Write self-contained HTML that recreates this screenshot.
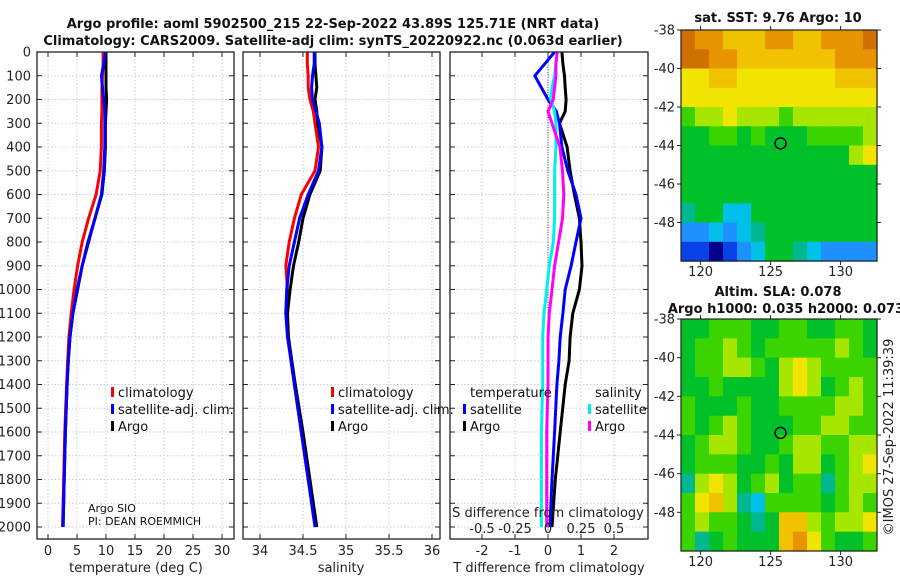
<!DOCTYPE html>
<html><head><meta charset="utf-8"><style>
body{margin:0;background:#fff;}
svg{display:block;font-family:"DejaVu Sans","Liberation Sans",sans-serif;}
</style></head><body>
<svg id="chart" width="900" height="580" viewBox="0 0 900 580">
<g id="titles" font-weight="bold" font-size="13" text-anchor="middle" fill="#111">
<text x="333" y="28">Argo profile: aoml 5902500_215 22-Sep-2022 43.89S 125.71E (NRT data)</text>
<text x="333" y="45">Climatology: CARS2009. Satellite-adj clim: synTS_20220922.nc (0.063d earlier)</text>
<text x="778" y="22">sat. SST: 9.76 Argo: 10</text>
<text x="778" y="296">Altim. SLA: 0.078</text>
<text x="786" y="313">Argo h1000: 0.035 h2000: 0.073</text>
</g>
<g id="g"></g>
<text transform="translate(893,437) rotate(-90)" font-size="13" text-anchor="middle" fill="#222">©IMOS 27-Sep-2022 11:39:39</text>
</svg>
<script>
const depths=[0,50,100,150,200,250,300,400,500,600,700,800,900,1000,1100,1200,1300,1400,1600,1800,2000];
const tempClim=[9.5,9.5,9.4,9.3,9.3,9.3,9.2,9.2,9.0,8.3,7.0,5.9,5.1,4.5,4.0,3.6,3.4,3.2,2.9,2.7,2.5];
const tempSat=[9.9,9.6,9.2,9.4,9.6,9.8,9.8,9.8,9.6,9.2,8.1,7.0,5.9,5.0,4.3,3.8,3.5,3.3,3.0,2.8,2.6];
const tempArgo=[10.0,10.0,10.0,10.0,10.1,10.0,9.9,9.9,9.7,9.3,8.1,6.9,5.9,5.1,4.3,3.8,3.5,3.3,3.0,2.8,2.6];
const salClim=[34.55,34.55,34.56,34.56,34.58,34.62,34.64,34.68,34.64,34.48,34.40,34.34,34.30,34.32,34.30,34.33,34.36,34.40,34.48,34.56,34.66];
const salSat=[34.63,34.63,34.61,34.60,34.61,34.65,34.69,34.72,34.68,34.56,34.46,34.40,34.34,34.31,34.30,34.32,34.36,34.40,34.48,34.56,34.64];
const salArgo=[34.64,34.64,34.65,34.66,34.64,34.66,34.67,34.72,34.70,34.58,34.50,34.45,34.39,34.35,34.32,34.33,34.37,34.41,34.50,34.58,34.66];
const tDiffSat=[0.2,-0.1,-0.4,-0.2,0.0,0.25,0.35,0.42,0.6,0.85,1.0,0.85,0.7,0.52,0.45,0.37,0.33,0.27,0.2,0.12,0.06];
const tDiffArgo=[0.42,0.45,0.5,0.52,0.55,0.52,0.35,0.58,0.67,0.8,0.95,1.0,1.03,0.95,0.75,0.67,0.64,0.52,0.37,0.22,0.12];
const sDiffSat=[0.07,0.06,0.05,0.03,0.02,0.05,0.06,0.06,0.05,0.05,0.05,0.04,0.01,-0.01,-0.03,-0.04,-0.04,-0.04,-0.05,-0.05,-0.05];
const sDiffArgo=[0.07,0.06,0.06,0.05,0.04,0.0,0.03,0.09,0.11,0.12,0.11,0.08,0.05,0.03,0.01,0.0,0.0,0.0,-0.01,-0.01,-0.01];
const depthTicks=[0,100,200,300,400,500,600,700,800,900,1000,1100,1200,1300,1400,1500,1600,1700,1800,1900,2000];
const tempTicks=[0,5,10,15,20,25,30];
const salTicks=[34,34.5,35,35.5,36];
const tDiffTicks=[-2,-1,0,1,2];
const sDiffTicks=[-0.5,-0.25,0,0.25,0.5];
const sstGrid=["11 10 10 9 9 9 10 10 9 9 10 10 10 11","11 11 10 10 9 9 9 9 9 9 9 10 10 10","8 8 9 9 8 8 8 8 8 8 8 9 9 9","8 8 8 8 8 8 8 8 8 8 8 8 8 8","6 7 7 8 7 7 7 6 7 7 7 7 7 7","5 5 6 6 5 6 5 5 5 6 6 6 6 7","5 5 5 5 5 5 5 5 5 5 5 5 7 8","5 5 5 5 5 5 5 5 5 5 5 5 5 5","5 5 5 5 5 5 5 5 5 5 5 5 5 5","4 5 5 3 3 5 5 5 5 5 5 5 5 5","2 2 3 2 3 4 5 5 5 5 5 5 5 5","1 1 0 1 2 3 5 5 4 3 2 2 2 2"];
const slaGrid=["5 5 6 6 6 5 5 6 6 5 5 6 6 5","5 6 6 7 6 5 6 6 6 6 6 7 6 5","5 6 6 7 7 6 5 7 8 7 6 6 6 6","5 5 6 5 5 5 5 7 8 7 5 6 7 6","6 5 5 5 6 5 5 6 6 6 6 7 7 6","6 5 6 7 6 5 5 5 6 6 7 7 6 6","5 6 7 7 6 5 5 6 7 7 6 6 7 7","5 6 6 6 5 5 6 5 7 7 5 6 7 8","4 7 8 7 5 6 7 5 6 6 4 6 7 7","6 8 9 7 4 3 6 6 6 6 5 6 7 6","6 7 6 6 5 4 5 9 9 7 6 7 7 8","6 4 5 6 5 5 5 9 10 8 6 5 5 6"];
const latTicks=[-38,-40,-42,-44,-46,-48];
const lonTicks=[120,125,130];
const argoLon=125.71, argoLat=-43.89;

const NS="http://www.w3.org/2000/svg";
const root=document.getElementById('g');
function el(tag,attrs,parent,txt){const e=document.createElementNS(NS,tag);for(const k in attrs)e.setAttribute(k,attrs[k]);if(txt!==undefined)e.textContent=txt;(parent||root).appendChild(e);return e;}
const TOP=52,BOT=539;
const yD=d=>TOP+d*0.2375;
const panels=[
 {x0:37,x1:234,name:'temperature-panel',scale:v=>48+v*5.8},
 {x0:243,x1:440,name:'salinity-panel',scale:v=>260+(v-34)*86},
 {x0:450,x1:648,name:'difference-panel',scale:v=>548+v*33}
];
const sx=v=>548+v*132;
panels.forEach((p,pi)=>{
 const g=el('g',{});
 
 
 p.g=g;
 depthTicks.forEach(d=>{const l=el('line',{x1:p.x0,x2:p.x1,y1:yD(d),y2:yD(d),stroke:'#c8cbe8','stroke-dasharray':'1.5,2','stroke-width':1},g);
  
  
  el('line',{x1:p.x0,x2:p.x0+5,y1:yD(d),y2:yD(d),stroke:'#222'},g);
  el('line',{x1:p.x1-5,x2:p.x1,y1:yD(d),y2:yD(d),stroke:'#222'},g);
 });
 const ticks=pi===0?tempTicks:pi===1?salTicks:tDiffTicks;
 ticks.forEach(t=>{const x=p.scale(t);
  const l=el('line',{x1:x,x2:x,y1:TOP,y2:BOT,stroke:'#c8cbe8','stroke-dasharray':'1.5,2'},g);
  
  
  el('line',{x1:x,x2:x,y1:TOP,y2:TOP+5,stroke:'#222'},g);
  el('line',{x1:x,x2:x,y1:BOT-5,y2:BOT,stroke:'#222'},g);
  const tl=el('text',{x:x,y:555,'font-size':13,'text-anchor':'middle',fill:'#222'},g,String(t));
  
  
 });
});
depthTicks.forEach(d=>{const t=el('text',{x:31,y:yD(d)+4.5,'font-size':13,'text-anchor':'end',fill:'#222'},root,String(d));
 
 });
const zl=el('line',{x1:548,x2:548,y1:TOP,y2:BOT,stroke:'#444','stroke-dasharray':'1,1.5'},panels[2].g);


function series(vals,scale,color,name,parent){
 const pts=vals.map((v,i)=>scale(v).toFixed(1)+','+yD(depths[i]).toFixed(1)).join(' ');
 const pl=el('polyline',{points:pts,fill:'none',stroke:color,'stroke-width':3,'stroke-linejoin':'round'},parent);
 
 
}
series(tempClim,panels[0].scale,'#f00','temp-climatology-line',panels[0].g);
series(tempArgo,panels[0].scale,'#000','temp-argo-line',panels[0].g);
series(tempSat,panels[0].scale,'#00f','temp-satellite-line',panels[0].g);
series(salClim,panels[1].scale,'#f00','sal-climatology-line',panels[1].g);
series(salArgo,panels[1].scale,'#000','sal-argo-line',panels[1].g);
series(salSat,panels[1].scale,'#00f','sal-satellite-line',panels[1].g);
series(tDiffArgo,panels[2].scale,'#000','tdiff-argo-line',panels[2].g);
series(tDiffSat,panels[2].scale,'#00f','tdiff-satellite-line',panels[2].g);
series(sDiffSat,sx,'#0ee','sdiff-satellite-line',panels[2].g);
series(sDiffArgo,sx,'#f0f','sdiff-argo-line',panels[2].g);
panels.forEach(p=>{const r=el('rect',{x:p.x0,y:TOP,width:p.x1-p.x0,height:BOT-TOP,fill:'none',stroke:'#222','stroke-width':1.3},p.g);
 
 });
sDiffTicks.forEach(t=>{const tl=el('text',{x:sx(t),y:533,'font-size':13,'text-anchor':'middle',fill:'#222'},panels[2].g,String(t));
 
 });
const st=el('text',{x:548,y:517,'font-size':13,'text-anchor':'middle',fill:'#222'},panels[2].g,'S difference from climatology');


[['temperature (deg C)',136,'temperature-axis-title'],['salinity',341,'salinity-axis-title'],['T difference from climatology',549,'t-diff-axis-title']].forEach(a=>{
 const t=el('text',{x:a[1],y:572,'font-size':13,'text-anchor':'middle',fill:'#222'},root,a[0]);
 
 });
function leg(x,y,color,label,name){
 const g=el('g',{});
 
 
 if(color)el('rect',{x:x,y:y-10,width:3,height:10,fill:color},g);
 el('text',{x:x+7,y:y,'font-size':13,fill:'#111'},g,label);
}
leg(111,397,'#f00','climatology','legend-climatology');
leg(111,414,'#00f','satellite-adj. clim.','legend-satellite-adj');
leg(111,431,'#000','Argo','legend-argo');
leg(331,397,'#f00','climatology','legend-sal-climatology');
leg(331,414,'#00f','satellite-adj. clim.','legend-sal-satellite-adj');
leg(331,431,'#000','Argo','legend-sal-argo');
leg(463,397,null,'temperature','legend-temperature-header');
leg(463,414,'#00f','satellite','legend-t-satellite');
leg(463,431,'#000','Argo','legend-t-argo');
leg(588,397,null,'salinity','legend-salinity-header');
leg(588,414,'#0ee','satellite','legend-s-satellite');
leg(588,431,'#f0f','Argo','legend-s-argo');
const pi1=el('text',{x:88,y:512,'font-size':11,fill:'#111'},root,'Argo SIO');


const pi2=el('text',{x:88,y:525,'font-size':11,fill:'#111'},root,'PI: DEAN ROEMMICH');


const cmap=['#00008b','#0a40e8','#1e90ff','#00c0e8','#00b890','#00c12a','#3cd400','#a6e600','#f0e400','#f0c200','#e89400','#d07000'];
const MX0=681,MX1=877,LON0=118.6,LON1=132.6;
const mx=lon=>MX0+(lon-LON0)*(MX1-MX0)/(LON1-LON0);
function drawMap(grid,y0,y1,name){
 const g=el('g',{});
 
 
 const my=lat=>y0+(-38-lat)*(y1-y0)/12;
 grid.forEach((row,ri)=>{row.split(' ').forEach((v,ci)=>{
  const c=el('rect',{x:mx(LON0+ci).toFixed(1),y:my(-38-ri).toFixed(1),width:((MX1-MX0)/14+0.6).toFixed(1),height:((y1-y0)/12+0.6).toFixed(1),fill:cmap[+v]},g);
  
  
 });});
 const fr=el('rect',{x:MX0,y:y0,width:MX1-MX0,height:y1-y0,fill:'none',stroke:'#222','stroke-width':1.2},g);
 
 
 latTicks.forEach(l=>{const y=my(l);
  el('line',{x1:MX0-4,x2:MX0,y1:y,y2:y,stroke:'#222'},g);
  el('line',{x1:MX1,x2:MX1+4,y1:y,y2:y,stroke:'#222'},g);
  const t=el('text',{x:MX0-6,y:y+4.5,'font-size':13,'text-anchor':'end',fill:'#222'},g,String(l));
  
  });
 lonTicks.forEach(l=>{const x=mx(l);
  el('line',{x1:x,x2:x,y1:y1,y2:y1+4,stroke:'#222'},g);
  el('line',{x1:x,x2:x,y1:y0-4,y2:y0,stroke:'#222'},g);
  const t=el('text',{x:x,y:y1+15,'font-size':13,'text-anchor':'middle',fill:'#222'},g,String(l));
  
  });
 const c=el('circle',{cx:mx(argoLon),cy:my(argoLat),r:5.5,fill:'none',stroke:'#000','stroke-width':1.5},g);
 
 
}
drawMap(sstGrid,30,261,'sst-map');
drawMap(slaGrid,319,551,'sla-map');
</script>
</body></html>
